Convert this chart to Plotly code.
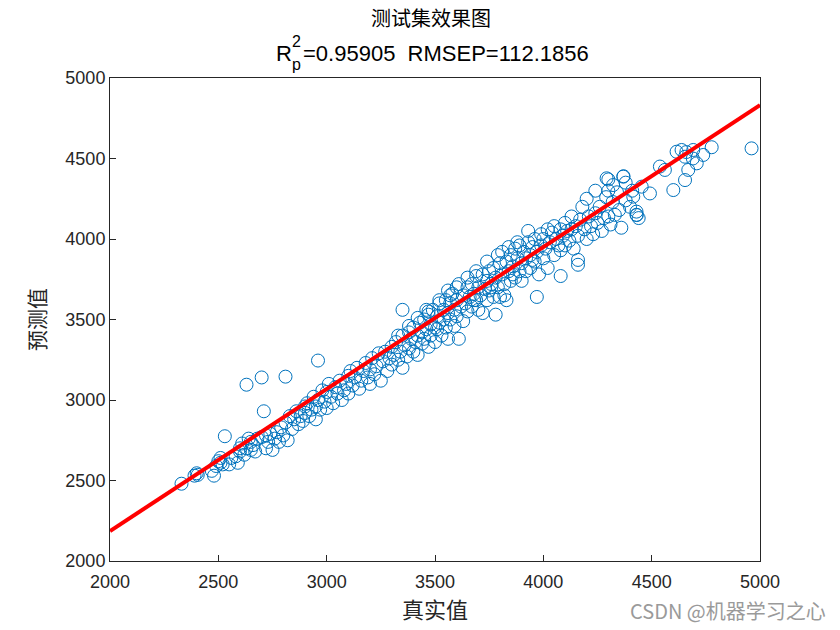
import plotly.graph_objects as go

# ---- data ----
true_vals = [
    2330, 2390, 2400, 2405, 2470, 2480, 2490, 2500, 2510, 2510, 2520, 2530, 2550, 2560, 2580, 2590, 2600, 2600, 2610, 2620,
    2630, 2630, 2640, 2650, 2650, 2660, 2670, 2680, 2700, 2700, 2710, 2720, 2720, 2730, 2740, 2750, 2760, 2770, 2780, 2790,
    2800, 2810, 2810, 2820, 2830, 2840, 2850, 2860, 2870, 2880, 2890, 2900, 2900, 2910, 2920,
    2930, 2940, 2950, 2950, 2960, 2960, 2970, 2980, 2990, 3000, 3000, 3010, 3020, 3030, 3040, 3050, 3060, 3070, 3080, 3090,
    3100, 3100, 3110, 3120, 3130, 3140, 3150, 3160, 3170, 3180, 3190, 3200, 3200, 3210, 3220, 3230, 3240, 3250, 3260, 3270,
    3280, 3290, 3300, 3300, 3310, 3320, 3330, 3340, 3350, 3350, 3350, 3360, 3370, 3380, 3380, 3390, 3400, 3400, 3410, 3420,
    3420, 3430, 3440, 3440, 3450, 3450, 3460, 3470, 3470, 3480, 3480, 3490, 3500, 3500, 3510, 3510, 3520, 3520, 3530, 3540,
    3540, 3550, 3550, 3560, 3560, 3570, 3570, 3580, 3590, 3590, 3600, 3600, 3610, 3610, 3620, 3630, 3630, 3640, 3650, 3650,
    3660, 3670, 3670, 3680, 3690, 3690, 3700, 3700, 3710, 3720, 3720, 3730, 3740, 3740, 3750, 3750, 3760, 3770, 3770, 3780,
    3780, 3790, 3800, 3800, 3810, 3810, 3820, 3820, 3830, 3830, 3840, 3850, 3850, 3860, 3870, 3870, 3880, 3890, 3890, 3900,
    3900, 3910, 3920, 3920, 3930, 3940, 3940, 3950, 3960, 3960, 3970, 3970, 3980, 3990, 3990, 4000, 4000, 4010, 4020, 4020,
    4030, 4040, 4050, 4050, 4060, 4070, 4080, 4080, 4080, 4090, 4100, 4100, 4110, 4120, 4130, 4130, 4140, 4150, 4160, 4160,
    4160, 4170, 4180, 4190, 4200, 4200, 4210, 4220, 4230, 4240, 4240, 4250, 4260, 4270, 4280, 4290, 4300, 4300, 4300, 4310,
    4320, 4330, 4340, 4350, 4360, 4370, 4380, 4380, 4400, 4410, 4292, 4322, 4369, 4415, 4431,
    4430, 4440, 4430, 4454, 4492, 4538, 4561, 4600, 4615, 4638, 4654, 4654, 4669, 4692, 4708, 4738, 4777, 4961, 4660, 4690,
    3330, 3380, 3420, 3460, 3520, 3560, 3600, 3650, 3690, 3740, 3790, 3840, 3880, 3930, 3470, 3570, 3680, 3760, 3860, 3950,
]
pred_vals = [
    2480, 2530, 2545, 2535, 2560, 2530, 2590, 2620, 2640, 2610, 2600, 2775, 2600, 2640, 2650, 2610, 2700, 2680, 2730, 2660,
    3095, 2700, 2760, 2690, 2740, 2720, 2680, 2760, 3140, 2770, 2930, 2700, 2780, 2740, 2790, 2690, 2760, 2800, 2740, 2830,
    2780, 3145, 2860, 2750, 2900, 2820, 2880, 2930, 2850, 2900, 2870, 2960, 2920, 2980, 2900,
    2940, 3020, 2880, 2960, 3245, 3000, 2940, 3060, 2990, 3050, 2950, 3100, 3020, 2980, 3080, 3040, 3120, 3000, 3060, 3100,
    3150, 3040, 3180, 3090, 3140, 3200, 3070, 3120, 3180, 3230, 3140, 3190, 3100, 3260, 3160, 3210, 3290, 3120, 3240, 3300,
    3180, 3260, 3330, 3220, 3280, 3360, 3250, 3300, 3560, 3400, 3200, 3340, 3270, 3420, 3320, 3380, 3300, 3450, 3360, 3400,
    3280, 3480, 3350, 3420, 3500, 3380, 3440, 3530, 3330, 3470, 3400, 3560, 3450, 3360, 3520, 3440, 3600, 3480, 3400, 3560,
    3500, 3620, 3450, 3380, 3540, 3600, 3500, 3660, 3560, 3460, 3620, 3520, 3380, 3720, 3580, 3650, 3490, 3600, 3700, 3550,
    3640, 3580, 3720, 3660, 3620, 3770, 3700, 3560, 3650, 3540, 3780, 3690, 3740, 3620, 3800, 3680, 3720, 3640, 3820, 3530,
    3760, 3700, 3850, 3640, 3920, 3780, 3650, 3720, 3620, 3860, 3800, 3740, 3900, 3830, 3760, 3940, 3880, 3800, 3960, 3850,
    3740, 3920, 3880, 3800, 3980, 3900, 3820, 3950, 4000, 3860, 3640, 3920, 3780, 4030, 3960, 3880, 4000, 3940, 4060, 3820,
    3980, 4040, 3900, 4080, 4000, 3960, 3770, 3930, 4060, 4020, 4100, 3960, 4050, 3990, 4140, 4060, 3940, 4080, 3840, 3870,
    4020, 4120, 4200, 4060, 4250, 4000, 4140, 4080, 4030, 4300, 4160, 4100, 4200, 4050, 4130, 4260, 4370, 4300, 4140, 4090,
    4230, 4150, 4290, 4180, 4070, 4390, 4350, 4240, 4200, 4300, 4377, 4335, 4387, 4263, 4149,
    4150, 4130, 4170, 4325, 4283, 4450, 4429, 4304, 4542, 4553, 4511, 4366, 4429, 4553, 4470, 4522, 4570, 4563, 4540, 4500,
    3400, 3460, 3510, 3560, 3620, 3680, 3700, 3760, 3800, 3860, 3900, 3950, 3980, 4050, 3550, 3650, 3620, 3700, 3780, 3870,
]

fit_x = [2000, 5000]
fit_y = [2186, 4832]

title_line1 = "测试集效果图"
title_rest = "=0.95905\u00a0\u00a0RMSEP=112.1856"
x_label = "真实值"
y_label = "预测值"
tick_vals = [2000, 2500, 3000, 3500, 4000, 4500, 5000]

# ---- figure ----
W, H = 840, 630
L, R, T, B = 110, 80, 78, 69
pw, ph = W - L - R, H - T - B

def px(x):
    return (x - L) / pw

def py(y):
    return (H - B - y) / ph

fig = go.Figure()
fig.add_trace(go.Scatter(
    x=true_vals, y=pred_vals, mode="markers",
    marker=dict(symbol="circle-open", size=13, color="#0072BD", line=dict(width=1, color="#0072BD")),
    showlegend=False, hoverinfo="skip",
))
fig.add_trace(go.Scatter(
    x=fit_x, y=fit_y, mode="lines",
    line=dict(color="#FF0000", width=4), showlegend=False, hoverinfo="skip",
))

axis_common = dict(
    range=[2000, 5000], tickvals=tick_vals, ticks="inside", ticklen=6, tickwidth=1,
    tickcolor="#262626", showline=True, linecolor="#262626", linewidth=1, mirror=True,
    showgrid=False, zeroline=False,
    tickfont=dict(family="Liberation Sans, Arial", size=18, color="#262626"),
)

fig.update_layout(
    width=W, height=H, margin=dict(l=L, r=R, t=T, b=B),
    paper_bgcolor="white", plot_bgcolor="white",
    xaxis=dict(**axis_common, ticklabelstandoff=4,
               title=dict(text=x_label, font=dict(family="Noto Sans CJK SC", size=22, color="#262626"), standoff=10)),
    yaxis=dict(**axis_common,
               title=dict(text=y_label, font=dict(family="Noto Sans CJK SC", size=21, color="#262626"), standoff=14)),
)

ann_font = dict(family="Liberation Sans, Arial", size=22, color="#000000")
small_font = dict(family="Liberation Sans, Arial", size=16, color="#000000")
annotations = [
    dict(text=title_line1, x=px(431), y=py(18), xref="paper", yref="paper", showarrow=False,
         xanchor="center", yanchor="middle", font=dict(family="Noto Sans CJK SC", size=20, color="#000000")),
    dict(text="R", x=px(294), y=py(53), xref="paper", yref="paper", showarrow=False,
         xanchor="right", yanchor="middle", font=ann_font),
    dict(text="2", x=px(290), y=py(41), xref="paper", yref="paper", showarrow=False,
         xanchor="left", yanchor="middle", font=small_font),
    dict(text="p", x=px(290), y=py(64), xref="paper", yref="paper", showarrow=False,
         xanchor="left", yanchor="middle", font=small_font),
    dict(text=title_rest, x=px(301), y=py(53), xref="paper", yref="paper", showarrow=False,
         xanchor="left", yanchor="middle", font=ann_font),
    dict(text="CSDN @机器学习之心", x=px(828), y=py(610), xref="paper", yref="paper", showarrow=False,
         xanchor="right", yanchor="middle", font=dict(family="Noto Sans CJK SC", size=20, color="#9a9a9a")),
]
fig.update_layout(annotations=annotations)

fig.write_html("out.html")
